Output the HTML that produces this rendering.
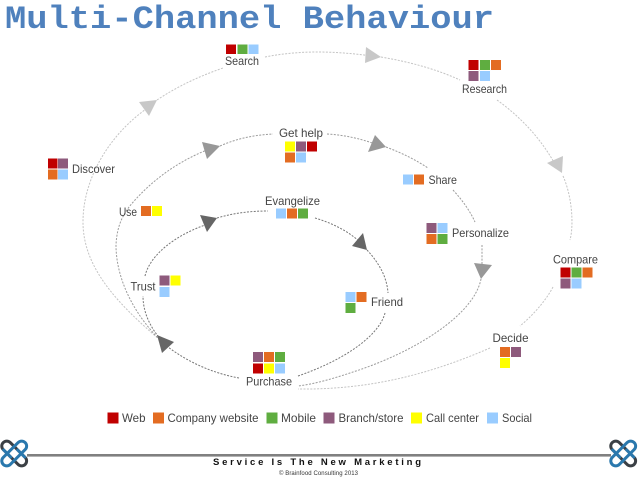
<!DOCTYPE html>
<html lang="en">
<head>
<meta charset="utf-8">
<title>Multi-Channel Behaviour</title>
<style>
html,body{margin:0;padding:0;background:#fff;width:638px;height:479px;overflow:hidden}
svg{display:block}
.l{font-family:"Liberation Sans",Arial,sans-serif;font-size:12px;fill:#444}
.a{fill:none;stroke-width:1;stroke-dasharray:2 1.4}
.o{stroke:#c4c4c4}
.m{stroke:#9c9c9c}
.i{stroke:#777}
.r{fill:#c00000}.e{fill:#e36c21}.g{fill:#5fad41}.p{fill:#8e5a7c}.y{fill:#ffff00}.b{fill:#99ccff}
</style>
</head>
<body>
<svg width="638" height="479" viewBox="0 0 638 479" xmlns="http://www.w3.org/2000/svg">
<defs>
<filter id="s" x="-2%" y="-2%" width="104%" height="104%"><feGaussianBlur stdDeviation="0.35"/></filter>
<g id="logo" fill="none" stroke-width="3" stroke-linecap="round">
<rect x="-15.5" y="-5" width="31" height="10" rx="5" transform="rotate(45)" stroke="#3a3f45"/>
<rect x="-15.5" y="-5" width="31" height="10" rx="5" transform="rotate(-45)" stroke="#2a78ad"/>
<path d="M-10.5 -3.5 L-3.5 3.5" stroke="#2a78ad"/>
<path d="M10.5 3.5 L3.5 -3.5" stroke="#2a78ad"/>
</g>
</defs>

<text x="5" y="28" font-family="'Liberation Mono','Courier New',monospace" font-weight="700" font-size="32" fill="#4f81bd" textLength="489" lengthAdjust="spacingAndGlyphs">Multi-Channel Behaviour</text>

<g filter="url(#s)">
<!-- outer spiral -->
<path class="a o" d="M160 340 C118 304 83 268 83 222 C83 176 112 132 149 107"/>
<path class="a o" d="M157 100 C178 86 200 76 223 68"/>
<path class="a o" d="M265 57 C300 50 335 51 372 56"/>
<path class="a o" d="M381 57 C410 62 436 69 460 80"/>
<path class="a o" d="M497 100 C522 118 542 140 556 166"/>
<path class="a o" d="M563 176 C572 196 574 225 570 240"/>
<path class="a o" d="M553 287 C545 302 532 316 520 326"/>
<path class="a o" d="M490 348 C430 374 370 390 298 389"/>
<!-- middle spiral -->
<path class="a m" d="M160 340 C135 315 116 280 116 245 C117 224 124 212 135 200 C155 178 180 160 212 148"/>
<path class="a m" d="M220 146 C238 138 255 135 273 134"/>
<path class="a m" d="M327 134 C345 135 362 139 378 145"/>
<path class="a m" d="M386 147 C402 153 416 160 428 168"/>
<path class="a m" d="M453 190 C463 201 470 211 475 222"/>
<path class="a m" d="M482 245 L482 268"/>
<path class="a m" d="M481 279 C474 315 415 352 353 372 C335 378 315 384 298 386"/>
<!-- inner spiral -->
<path class="a i" d="M163 342 C150 328 143 312 143 296"/>
<path class="a i" d="M145 276 C150 255 175 235 208 224"/>
<path class="a i" d="M217 218 C234 213 250 211 268 211"/>
<path class="a i" d="M315 218 C332 223 348 231 360 242"/>
<path class="a i" d="M367 250 C380 264 387 278 388 293"/>
<path class="a i" d="M385 313 C380 333 350 358 298 376"/>
<path class="a i" d="M239 378 C212 373 188 362 168 347"/>

<!-- arrowheads -->
<g fill="#c8c8c8">
<polygon points="139,102 157,100 149,116"/>
<polygon points="366,47 381,57 365,63"/>
<polygon points="563,156 547,163 562,173"/>
</g>
<g fill="#989898">
<polygon points="202,142 220,146 207,159"/>
<polygon points="375,135 386,147 368,152"/>
<polygon points="474,263 492,265 481,279"/>
</g>
<g fill="#666">
<polygon points="200,215 217,218 207,232"/>
<polygon points="363,233 352,246 367,250"/>
<polygon points="157,335 174,342 162,353"/>
</g>

<!-- Search -->
<rect class="r" x="226" y="44.5" width="10" height="9.5"/><rect class="g" x="237.5" y="44.5" width="10" height="9.5"/><rect class="b" x="248.5" y="44.5" width="10" height="9.5"/>
<text class="l" x="225" y="65" textLength="34" lengthAdjust="spacingAndGlyphs">Search</text>
<!-- Research -->
<rect class="r" x="468.5" y="60" width="10" height="10"/><rect class="g" x="480" y="60" width="10" height="10"/><rect class="e" x="491" y="60" width="10" height="10"/>
<rect class="p" x="468.5" y="71" width="10" height="10"/><rect class="b" x="480" y="71" width="10" height="10"/>
<text class="l" x="462" y="93" textLength="45" lengthAdjust="spacingAndGlyphs">Research</text>
<!-- Discover -->
<rect class="r" x="48" y="158.5" width="9.5" height="10"/><rect class="p" x="58" y="158.5" width="10" height="10"/>
<rect class="e" x="48" y="169.5" width="9.5" height="10"/><rect class="b" x="58" y="169.5" width="10" height="10"/>
<text class="l" x="72" y="173" textLength="43" lengthAdjust="spacingAndGlyphs">Discover</text>
<!-- Get help -->
<text class="l" x="279" y="137" textLength="44" lengthAdjust="spacingAndGlyphs">Get help</text>
<rect class="y" x="285" y="141.5" width="10" height="10"/><rect class="p" x="296" y="141.5" width="10" height="10"/><rect class="r" x="307" y="141.5" width="10" height="10"/>
<rect class="e" x="285" y="152.5" width="10" height="10"/><rect class="b" x="296" y="152.5" width="10" height="10"/>
<!-- Use -->
<text class="l" x="119" y="216" textLength="18" lengthAdjust="spacingAndGlyphs">Use</text>
<rect class="e" x="141" y="206" width="10" height="10"/><rect class="y" x="152" y="206" width="10" height="10"/>
<!-- Evangelize -->
<text class="l" x="265" y="205" textLength="55" lengthAdjust="spacingAndGlyphs">Evangelize</text>
<rect class="b" x="276" y="208.5" width="10" height="10"/><rect class="e" x="287" y="208.5" width="10" height="10"/><rect class="g" x="298" y="208.5" width="10" height="10"/>
<!-- Share -->
<rect class="b" x="403" y="174.5" width="10" height="10"/><rect class="e" x="414" y="174.5" width="10" height="10"/>
<text class="l" x="428.5" y="184" textLength="28.5" lengthAdjust="spacingAndGlyphs">Share</text>
<!-- Personalize -->
<rect class="p" x="426.5" y="223" width="10" height="10"/><rect class="b" x="437.5" y="223" width="10" height="10"/>
<rect class="e" x="426.5" y="234" width="10" height="10"/><rect class="g" x="437.5" y="234" width="10" height="10"/>
<text class="l" x="452" y="237" textLength="57" lengthAdjust="spacingAndGlyphs">Personalize</text>
<!-- Compare -->
<text class="l" x="553" y="263.5" textLength="45" lengthAdjust="spacingAndGlyphs">Compare</text>
<rect class="r" x="560.5" y="267.5" width="10" height="10"/><rect class="g" x="571.5" y="267.5" width="10" height="10"/><rect class="e" x="582.5" y="267.5" width="10" height="10"/>
<rect class="p" x="560.5" y="278.5" width="10" height="10"/><rect class="b" x="571.5" y="278.5" width="10" height="10"/>
<!-- Friend -->
<rect class="b" x="345.5" y="292" width="10" height="10"/><rect class="e" x="356.5" y="292" width="10" height="10"/><rect class="g" x="345.5" y="303" width="10" height="10"/>
<text class="l" x="371" y="306" textLength="32" lengthAdjust="spacingAndGlyphs">Friend</text>
<!-- Trust -->
<text class="l" x="130.5" y="290.5" textLength="25" lengthAdjust="spacingAndGlyphs">Trust</text>
<rect class="p" x="159.5" y="275.5" width="10" height="10"/><rect class="y" x="170.5" y="275.5" width="10" height="10"/><rect class="b" x="159.5" y="287" width="10" height="10"/>
<!-- Purchase -->
<rect class="p" x="253" y="352" width="10" height="10"/><rect class="e" x="264" y="352" width="10" height="10"/><rect class="g" x="275" y="352" width="10" height="10"/>
<rect class="r" x="253" y="363.5" width="10" height="10"/><rect class="y" x="264" y="363.5" width="10" height="10"/><rect class="b" x="275" y="363.5" width="10" height="10"/>
<text class="l" x="246" y="385.5" textLength="46" lengthAdjust="spacingAndGlyphs">Purchase</text>
<!-- Decide -->
<text class="l" x="492.5" y="342" textLength="36" lengthAdjust="spacingAndGlyphs">Decide</text>
<rect class="e" x="500" y="347" width="10" height="10"/><rect class="p" x="511" y="347" width="10" height="10"/><rect class="y" x="500" y="358" width="10" height="10"/>

<!-- Legend -->
<rect class="r" x="107.5" y="412.5" width="11" height="11"/><text class="l" x="122" y="422" textLength="23.5" lengthAdjust="spacingAndGlyphs">Web</text>
<rect class="e" x="153" y="412.5" width="11" height="11"/><text class="l" x="167.5" y="422" textLength="91" lengthAdjust="spacingAndGlyphs">Company website</text>
<rect class="g" x="266.5" y="412.5" width="11" height="11"/><text class="l" x="281" y="422" textLength="35" lengthAdjust="spacingAndGlyphs">Mobile</text>
<rect class="p" x="323.5" y="412.5" width="11" height="11"/><text class="l" x="338.5" y="422" textLength="65" lengthAdjust="spacingAndGlyphs">Branch/store</text>
<rect class="y" x="411" y="412.5" width="11" height="11"/><text class="l" x="426" y="422" textLength="53" lengthAdjust="spacingAndGlyphs">Call center</text>
<rect class="b" x="487" y="412.5" width="11" height="11"/><text class="l" x="502" y="422" textLength="30" lengthAdjust="spacingAndGlyphs">Social</text>
</g>

<!-- Footer -->
<rect x="27" y="454" width="584" height="2.6" fill="#808080"/>
<g filter="url(#s)">
<use href="#logo" x="14.2" y="453.5"/>
<use href="#logo" x="623.2" y="453.5"/>
</g>
<text x="213" y="465" font-family="'Liberation Sans',Arial,sans-serif" font-weight="700" font-size="9.5" fill="#111" textLength="208">Service Is The New Marketing</text>
<text x="279" y="475" font-family="'Liberation Sans',Arial,sans-serif" font-size="6" fill="#333" textLength="79">© Brainfood Consulting 2013</text>
</svg>
</body>
</html>
